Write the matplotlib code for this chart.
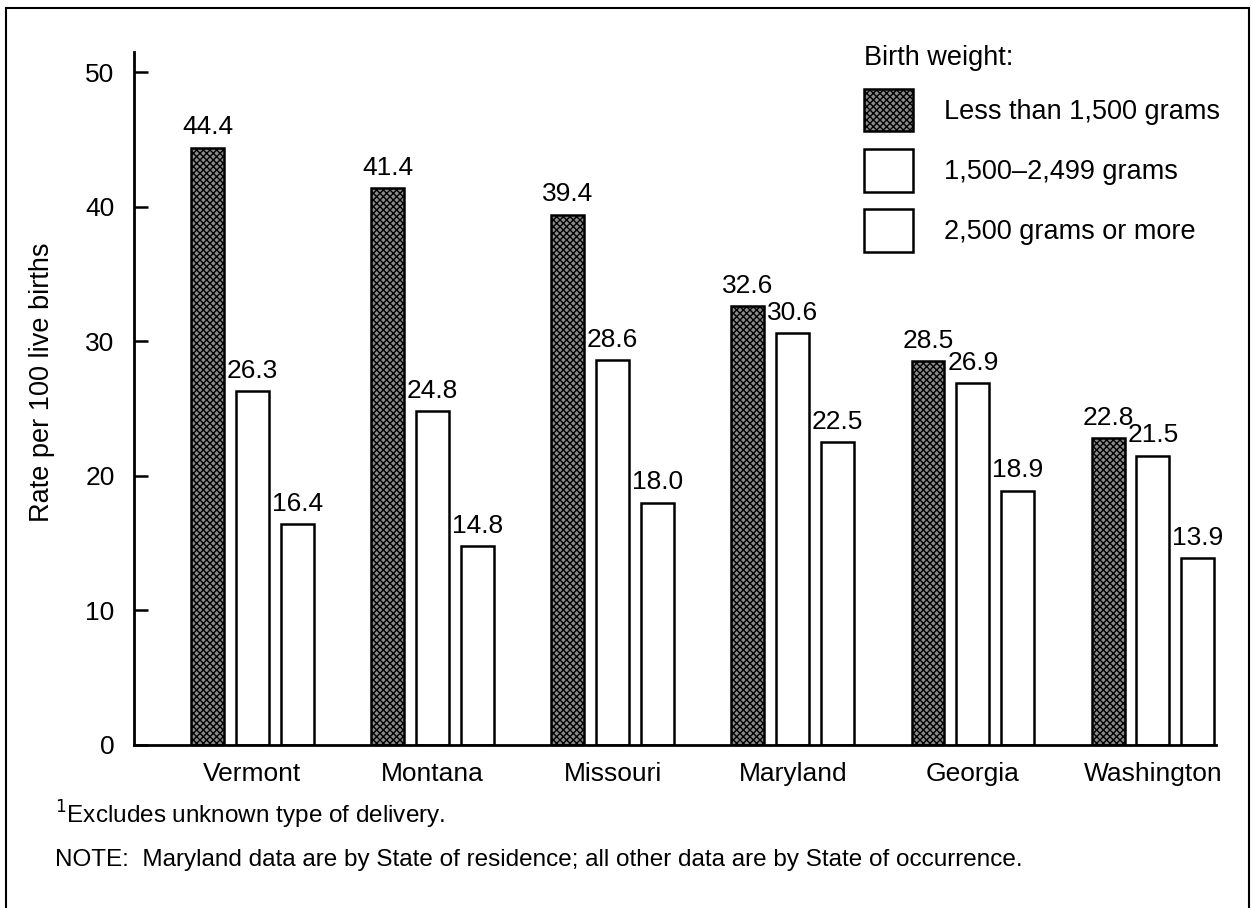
import numpy as np
import matplotlib
matplotlib.use('Agg')
import matplotlib.pyplot as plt
from matplotlib.patches import Rectangle

# data
states = ['Vermont', 'Montana', 'Missouri', 'Maryland', 'Georgia', 'Washington']
under_1500 = [44.4, 41.4, 39.4, 32.6, 28.5, 22.8]
from_1500_to_2499 = [26.3, 24.8, 28.6, 30.6, 26.9, 21.5]
over_2500 = [16.4, 14.8, 18.0, 22.5, 18.9, 13.9]
series_labels = ['Less than 1,500 grams', '1,500\u20132,499 grams', '2,500 grams or more']
yticks = [0, 10, 20, 30, 40, 50]

plt.rcParams['font.family'] = ['Liberation Sans', 'DejaVu Sans']
plt.rcParams['hatch.linewidth'] = 1.0
plt.rcParams['hatch.color'] = 'black'

fs = 19

fig = plt.figure(figsize=(12.51, 9.08), dpi=100)
ax = fig.add_axes([134/1251, 1 - 745/908, (1216-134)/1251, (745-52)/908])

x = np.arange(len(states))
w = 0.183
step = 0.249
b1 = ax.bar(x - step, under_1500, w, facecolor='#8a8a8a', edgecolor='black',
            linewidth=1.8, hatch='xxxxx', label=series_labels[0])
b2 = ax.bar(x, from_1500_to_2499, w, facecolor='white', edgecolor='black',
            linewidth=1.8, label=series_labels[1])
b3 = ax.bar(x + step, over_2500, w, facecolor='white', edgecolor='black',
            linewidth=1.8, label=series_labels[2])
for b in (b1, b2, b3):
    ax.bar_label(b, fmt='%.1f', padding=6, fontsize=fs)

ax.set_xlim(-0.657, 5.35)
ax.set_ylim(0, 51.5)
ax.set_yticks(yticks)
ax.set_xticks(x)
ax.set_xticklabels(states, fontsize=fs)
ax.tick_params(axis='x', length=0, pad=12)
ax.tick_params(axis='y', direction='in', length=10, width=1.8, labelsize=fs, pad=14)
for s in ['top', 'right']:
    ax.spines[s].set_visible(False)
for s in ['left', 'bottom']:
    ax.spines[s].set_linewidth(2)
ax.set_ylabel('Rate per 100 live births', fontsize=fs + 0.5)
ax.yaxis.set_label_coords(-0.073, 0.524)

leg = ax.legend(handles=[b1, b2, b3], title='Birth weight:', loc='upper left',
                bbox_to_anchor=(864/1251, 1 - 45/908), bbox_transform=fig.transFigure,
                frameon=False, fontsize=fs + 0.5, title_fontsize=fs + 0.5, alignment='left',
                handlelength=1.81, handleheight=2.05, labelspacing=0.65,
                handletextpad=1.15, borderpad=0, borderaxespad=0)

fig.text(55/1251, 1 - 815/908, '$^1$Excludes unknown type of delivery.', fontsize=17.5, va='center')
fig.text(55/1251, 1 - 860/908,
         'NOTE:  Maryland data are by State of residence; all other data are by State of occurrence.',
         fontsize=17.5, va='center')

# frame round the whole figure
fig.patches.append(Rectangle((6/1251, -0.02), (1249-6)/1251, 1.02 - 8/908,
                             transform=fig.transFigure, fill=False,
                             edgecolor='black', linewidth=1.5))

fig.savefig('out.png', dpi=100)
